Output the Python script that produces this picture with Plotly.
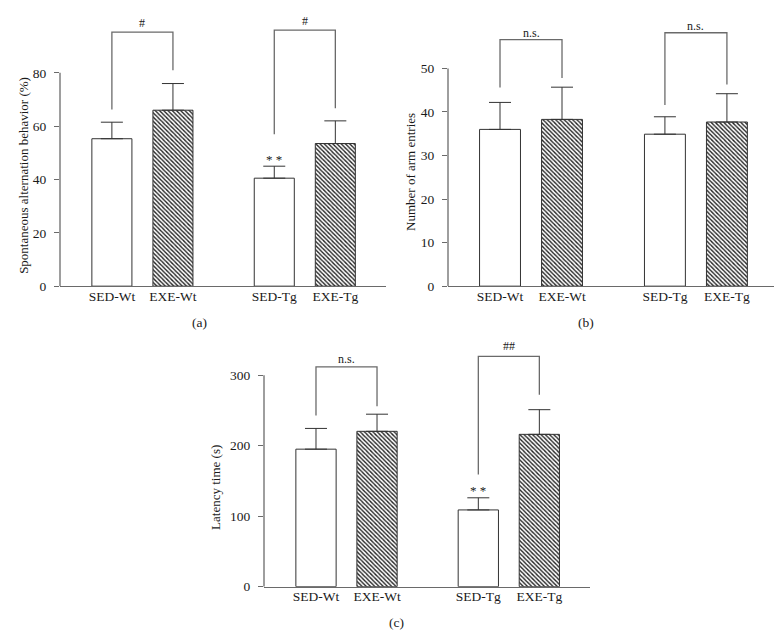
import plotly.graph_objects as go

W, H = 782, 637

# ---------------- data ----------------
groups = ["SED-Wt", "EXE-Wt", "SED-Tg", "EXE-Tg"]
positions = [0, 1, 2.66, 3.66]

a_mean = [55.3, 66.0, 40.5, 53.5]
a_err = [6.2, 10.0, 4.5, 8.5]
a_ticks = [0, 20, 40, 60, 80]

b_mean = [36.0, 38.3, 34.9, 37.7]
b_err = [6.2, 7.4, 4.0, 6.5]
b_ticks = [0, 10, 20, 30, 40, 50]

c_mean = [195.0, 220.3, 108.8, 216.0]
c_err = [29.4, 24.3, 17.2, 35.0]
c_ticks = [0, 100, 200, 300]

# brackets: (left bar index, right bar index, left leg bottom, top, right leg bottom, label, label y)
a_brackets = [(0, 1, 66.3, 95.3, 81.0, "#", 98.8), (2, 3, 57.0, 96.0, 66.7, "#", 99.5)]
b_brackets = [(0, 1, 45.6, 56.6, 47.8, "n.s.", 58.2), (2, 3, 41.6, 58.2, 46.3, "n.s.", 59.8)]
c_brackets = [(0, 1, 242.7, 311.8, 255.8, "n.s.", 323.5), (2, 3, 159.0, 326.7, 272.0, "##", 340.7)]

a_star = (2, "* *", 47.6)
c_star = (2, "* *", 137.0)

y_titles = ["Spontaneous alternation behavior (%)", "Number of arm entries", "Latency time (s)"]
panel_labels = ["(a)", "(b)", "(c)"]

# ---------------- style ----------------
FONT = "Liberation Serif"
TXT = "#1a1a1a"
AXC = "#6a6a6a"
BARLINE = "#333333"
shapes_pat = ["", "\\", "", "\\"]


def px_x(p):
    return p / W


def px_y(p):
    return 1 - p / H


fig = go.Figure()

panels = [
    dict(mean=a_mean, err=a_err, ticks=a_ticks, brackets=a_brackets, star=a_star,
         xdom=(52, 378), xr=(-0.85, 4.49), ydom=(11.7, 281.7), yr=(0, 100), bw=0.656,
         title_pos=(16, 170), label_pos=(191, 318)),
    dict(mean=b_mean, err=b_err, ticks=b_ticks, brackets=b_brackets, star=None,
         xdom=(440, 778), xr=(-0.839, 4.613), ydom=(8.3, 281.7), yr=(0, 62), bw=0.66,
         title_pos=(403, 166), label_pos=(578, 318)),
    dict(mean=c_mean, err=c_err, ticks=c_ticks, brackets=c_brackets, star=c_star,
         xdom=(256, 582), xr=(-0.852, 4.49), ydom=(336.1, 586), yr=(0, 350), bw=0.66,
         title_pos=(208, 486), label_pos=(388, 622)),
]

layout_axes = {}
annotations = []
shapes = []
for i, p in enumerate(panels):
    n = "" if i == 0 else str(i + 1)
    xa, ya = "x" + n, "y" + n
    fig.add_trace(go.Bar(
        x=positions, y=p["mean"], width=p["bw"], xaxis=xa, yaxis=ya,
        marker=dict(color="white", line=dict(color=BARLINE, width=1),
                    pattern=dict(shape=shapes_pat, fgcolor="#222222", bgcolor="white",
                                 size=3, solidity=0.45, fillmode="replace")),
        error_y=dict(type="data", symmetric=False, array=p["err"],
                     arrayminus=[0] * len(p["err"]), color=BARLINE, thickness=1, width=11),
        showlegend=False, hoverinfo="skip"))
    for (l, r, y0, top, y1, lab, ly) in p["brackets"]:
        fig.add_trace(go.Scatter(
            x=[positions[l], positions[l], positions[r], positions[r]],
            y=[y0, top, top, y1], mode="lines", xaxis=xa, yaxis=ya,
            line=dict(color=AXC, width=1.3), showlegend=False, hoverinfo="skip"))
        annotations.append(dict(x=(positions[l] + positions[r]) / 2, y=ly, xref=xa, yref=ya,
                                text=lab, showarrow=False, font=dict(family=FONT, size=12, color=TXT),
                                xanchor="center", yanchor="middle"))
    if p["star"]:
        idx, lab, sy = p["star"]
        annotations.append(dict(x=positions[idx], y=sy, xref=xa, yref=ya, text=lab, showarrow=False,
                                font=dict(family=FONT, size=13, color=TXT),
                                xanchor="center", yanchor="middle"))
    # y axis line from 0 to top tick
    shapes.append(dict(type="line", xref=xa + " domain", yref=ya, x0=0, x1=0,
                       y0=0, y1=p["ticks"][-1], line=dict(color=AXC, width=1.3)))
    layout_axes["xaxis" + n] = dict(
        domain=[px_x(p["xdom"][0]), px_x(p["xdom"][1])], range=list(p["xr"]), anchor=ya,
        showgrid=False, zeroline=False, showline=True, linecolor=AXC, linewidth=1.3,
        ticks="", tickvals=positions, ticktext=groups, ticklabelstandoff=-3,
        tickfont=dict(family=FONT, size=13.5, color=TXT), fixedrange=True)
    layout_axes["yaxis" + n] = dict(
        domain=[px_y(p["ydom"][1]), px_y(p["ydom"][0])], range=list(p["yr"]), anchor=xa,
        showgrid=False, zeroline=False, showline=False, ticks="outside", ticklen=5,
        tickcolor=AXC, tickwidth=1.3, tickvals=p["ticks"],
        tickfont=dict(family=FONT, size=13.5, color=TXT), ticklabelstandoff=5, fixedrange=True)
    annotations.append(dict(x=px_x(p["title_pos"][0]), y=px_y(p["title_pos"][1]), xref="paper",
                            yref="paper", text=y_titles[i], textangle=-90, showarrow=False,
                            font=dict(family=FONT, size=13, color=TXT),
                            xanchor="center", yanchor="middle"))
    annotations.append(dict(x=px_x(p["label_pos"][0]), y=px_y(p["label_pos"][1]), xref="paper",
                            yref="paper", text=panel_labels[i], showarrow=False,
                            font=dict(family=FONT, size=13.5, color=TXT),
                            xanchor="center", yanchor="middle"))

fig.update_layout(
    width=W, height=H, margin=dict(l=0, r=0, t=0, b=0),
    paper_bgcolor="white", plot_bgcolor="white",
    barmode="overlay", annotations=annotations, shapes=shapes,
    **layout_axes)

fig.write_html("out.html")
